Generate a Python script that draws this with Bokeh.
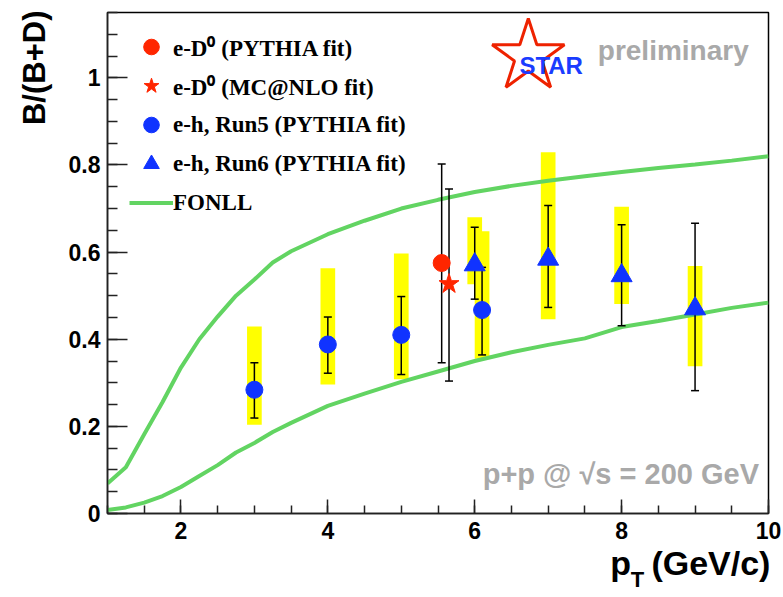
import math
from bokeh.plotting import figure
from bokeh.models import (Range1d, SingleIntervalTicker, FixedTicker, LinearAxis, Title,
                          Legend, LegendItem, Label)
from bokeh.embed import file_html
from bokeh.resources import INLINE

# ---------------- data ----------------
fonll_pt = [1.0, 1.25, 1.5, 1.75, 2.0, 2.25, 2.5, 2.75, 3.0, 3.25, 3.5, 4.0, 4.5,
            5.0, 5.5, 6.0, 6.5, 7.0, 7.5, 8.0, 8.5, 9.0, 9.5, 10.0]
fonll_upper = [0.069, 0.106, 0.182, 0.256, 0.335, 0.400, 0.452, 0.500, 0.537, 0.576,
               0.602, 0.641, 0.672, 0.700, 0.720, 0.738, 0.752, 0.764, 0.774, 0.784,
               0.793, 0.801, 0.810, 0.820]
fonll_lower = [0.008, 0.014, 0.025, 0.040, 0.061, 0.086, 0.111, 0.140, 0.162, 0.187,
               0.208, 0.247, 0.275, 0.302, 0.326, 0.350, 0.370, 0.387, 0.402, 0.428,
               0.442, 0.457, 0.472, 0.484]

run5_pt = [3.0, 4.0, 5.0, 6.1]
run5_val = [0.284, 0.388, 0.410, 0.467]
run5_stat_lo = [0.219, 0.322, 0.319, 0.364]
run5_stat_hi = [0.346, 0.451, 0.498, 0.565]
run5_sys_lo = [0.204, 0.296, 0.308, 0.355]
run5_sys_hi = [0.429, 0.563, 0.597, 0.648]

run6_pt = [6.0, 7.0, 8.0, 9.0]
run6_val = [0.571, 0.584, 0.546, 0.470]
run6_stat_lo = [0.492, 0.473, 0.431, 0.282]
run6_stat_hi = [0.657, 0.707, 0.663, 0.666]
run6_sys_lo = [0.526, 0.446, 0.481, 0.338]
run6_sys_hi = [0.680, 0.829, 0.704, 0.568]

ed0_pythia_pt = [5.55]
ed0_pythia_val = [0.575]
ed0_pythia_lo = [0.346]
ed0_pythia_hi = [0.802]

ed0_mcnlo_pt = [5.65]
ed0_mcnlo_val = [0.527]
ed0_mcnlo_lo = [0.304]
ed0_mcnlo_hi = [0.745]

x_tick_interval = 2
y_tick_interval = 0.2

# ---------------- styles ----------------
SANS = "Liberation Sans"
SERIF = "Liberation Serif"
GREEN = "#62d462"
BLUE = "#1033ff"
RED = "#ff2600"
YELLOW = "#ffff00"
GREY = "#a9a9a9"
SYS_W = 0.2

W, H = 783, 597
p = figure(width=W, height=H, x_range=Range1d(1, 10), y_range=Range1d(0, 1.15),
           output_backend="svg", toolbar_location=None,
           min_border_left=102, min_border_right=15, min_border_top=12, min_border_bottom=84)
p.background_fill_color = "white"
p.border_fill_color = "white"
p.outline_line_color = "black"
p.outline_line_width = 1.5
p.grid.visible = False

p.xaxis.ticker = SingleIntervalTicker(interval=x_tick_interval, num_minor_ticks=4)
p.yaxis.ticker = SingleIntervalTicker(interval=y_tick_interval, num_minor_ticks=4)
p.yaxis.major_label_overrides = {0: "0", 1: "1"}
for ax in (p.xaxis, p.yaxis):
    ax.axis_line_width = 1.5
    ax.axis_line_color = "#222222"
    ax.major_tick_line_color = "#222222"
    ax.minor_tick_line_color = "#222222"
    ax.major_tick_line_width = 1.5
    ax.minor_tick_line_width = 1.5
    ax.major_tick_out = 0
    ax.minor_tick_out = 0
    ax.major_label_text_font = SANS
    ax.major_label_text_font_style = "bold"
    ax.major_label_text_font_size = "23px"
    ax.major_label_text_color = "black"
p.xaxis.major_tick_in = 14
p.xaxis.minor_tick_in = 8
p.yaxis.major_tick_in = 20
p.yaxis.minor_tick_in = 10
p.xaxis.major_label_standoff = 8
p.yaxis.major_label_standoff = 7

# ---- helpers: picture pixel -> data coordinates (decorations only) ----
def X(px):
    return 1 + (px - 102) / 74.0

def Y(py):
    return (513 - py) / 435.65

# ---- x-axis title "p_T (GeV/c)" built from two label-only axes ----
def text_axis(ticks, labels, size, standoff):
    ax = LinearAxis(ticker=FixedTicker(ticks=ticks),
                    major_label_overrides=dict(zip(ticks, labels)))
    ax.axis_line_color = None
    ax.major_tick_line_color = None
    ax.minor_tick_line_color = None
    ax.major_tick_out = 0
    ax.major_tick_in = 0
    ax.minor_tick_out = 0
    ax.minor_tick_in = 0
    ax.major_label_standoff = standoff
    ax.major_label_text_font = SANS
    ax.major_label_text_font_style = "bold"
    ax.major_label_text_font_size = size
    ax.major_label_text_color = "black"
    return ax

p_pos, gev_pos, t_pos = X(619), X(710), X(636)
p.add_layout(text_axis([p_pos, gev_pos], ["p", "(GeV/c)"], "34px", 2), "below")
p.add_layout(text_axis([t_pos], ["T"], "22px", -18), "below")

# ---- y-axis title ----
ytitle = Title(text="B/(B+D)", align="right", offset=-2, standoff=28,
               text_font=SANS, text_font_style="bold", text_font_size="31px",
               text_color="black")
p.add_layout(ytitle, "left")

# systematic boxes
p.vbar(x=run5_pt, width=SYS_W, bottom=run5_sys_lo, top=run5_sys_hi,
       fill_color=YELLOW, line_color=None)
p.vbar(x=run6_pt, width=SYS_W, bottom=run6_sys_lo, top=run6_sys_hi,
       fill_color=YELLOW, line_color=None)

# FONLL band edges
r_fonll = p.line(fonll_pt, fonll_upper, line_color=GREEN, line_width=4)
p.line(fonll_pt, fonll_lower, line_color=GREEN, line_width=4)

# statistical error bars
def add_errors(xs, lo, hi):
    p.segment(x0=xs, y0=lo, x1=xs, y1=hi, line_color="black", line_width=1.5)
    p.scatter(xs, lo, marker="dash", size=8, line_color="black", line_width=1.5)
    p.scatter(xs, hi, marker="dash", size=8, line_color="black", line_width=1.5)

add_errors(run5_pt, run5_stat_lo, run5_stat_hi)
add_errors(run6_pt, run6_stat_lo, run6_stat_hi)
add_errors(ed0_pythia_pt, ed0_pythia_lo, ed0_pythia_hi)
add_errors(ed0_mcnlo_pt, ed0_mcnlo_lo, ed0_mcnlo_hi)

r_ed0p = p.scatter(ed0_pythia_pt, ed0_pythia_val, marker="circle", size=17,
                   fill_color=RED, line_color=RED)
r_ed0m = p.scatter(ed0_mcnlo_pt, ed0_mcnlo_val, marker="star", size=21,
                   fill_color=RED, line_color=RED)
r_run5 = p.scatter(run5_pt, run5_val, marker="circle", size=17,
                   fill_color=BLUE, line_color=BLUE)
r_run6 = p.scatter(run6_pt, run6_val, marker="triangle", size=21,
                   fill_color=BLUE, line_color=BLUE)

legend = Legend(items=[
    LegendItem(label="e-D\u2070 (PYTHIA fit)", renderers=[r_ed0p]),
    LegendItem(label="e-D\u2070 (MC@NLO fit)", renderers=[r_ed0m]),
    LegendItem(label="e-h, Run5 (PYTHIA fit)", renderers=[r_run5]),
    LegendItem(label="e-h, Run6 (PYTHIA fit)", renderers=[r_run6]),
    LegendItem(label="FONLL", renderers=[r_fonll]),
], location=(22, 291))
legend.padding = 0
legend.margin = 0
legend.spacing = 0
legend.glyph_width = 44
legend.glyph_height = 39
legend.label_height = 39
legend.label_standoff = 0
legend.label_text_font = SERIF
legend.label_text_font_style = "bold"
legend.label_text_font_size = "23px"
legend.label_text_color = "black"
legend.border_line_color = None
legend.background_fill_alpha = 0
p.add_layout(legend)

# STAR preliminary logo and energy label (inside the frame)
p.scatter([X(526)], [Y(56)], marker="star", size=76, fill_color=None,
          line_color="#ee2200", line_width=3)
p.add_layout(Label(x=X(517), y=Y(65), text="STAR", text_font=SANS,
                   text_font_style="bold", text_font_size="24px", text_color="#1a3cff",
                   text_baseline="alphabetic"))
p.add_layout(Label(x=X(596), y=Y(50), text="preliminary", text_font=SANS,
                   text_font_style="bold", text_font_size="28px", text_color=GREY,
                   text_baseline="alphabetic"))
p.add_layout(Label(x=X(480), y=Y(474), text="p+p @ \u221as = 200 GeV", text_font=SANS,
                   text_font_style="bold", text_font_size="29px", text_color=GREY,
                   text_baseline="alphabetic"))

open("out.html", "w").write(file_html(p, INLINE))
